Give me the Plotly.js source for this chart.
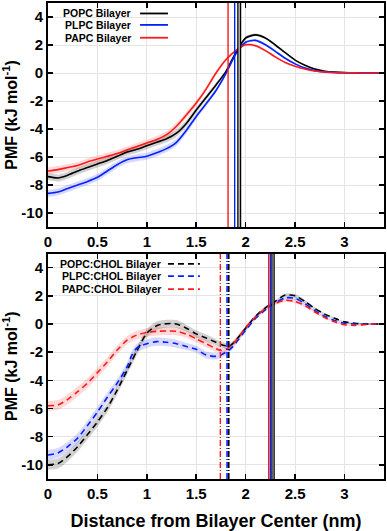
<!DOCTYPE html>
<html>
<head>
<meta charset="utf-8">
<script src="https://cdn.plot.ly/plotly-3.0.1.min.js"></script>
<style>
html,body{margin:0;padding:0;background:#fff;}
#chart{width:387px;height:531px;}
</style>
</head>
<body>
<div id="chart"></div>
<script>
// ---------- data ----------
const xTop = [0,0.1,0.2,0.3,0.4,0.5,0.6,0.7,0.8,0.9,1.0,1.1,1.2,1.3,1.4,1.5,1.6,1.7,1.8,1.9,2.0,2.1,2.2,2.3,2.4,2.5,2.6,2.7,2.8,2.9,3.0,3.1,3.2,3.3,3.4];
const popcTop = [-7.4,-7.5,-7.3,-7.0,-6.75,-6.5,-6.25,-5.95,-5.65,-5.45,-5.2,-4.95,-4.7,-4.3,-3.6,-2.65,-1.75,-0.85,0.1,1.45,2.5,2.72,2.5,2.0,1.45,0.92,0.55,0.28,0.13,0.06,0.03,0.01,0,0,0];
const plpcTop = [-8.6,-8.5,-8.25,-8.0,-7.75,-7.45,-7.0,-6.55,-6.2,-6.05,-5.95,-5.7,-5.4,-4.95,-4.1,-3.1,-2.2,-1.25,-0.05,1.35,2.2,2.33,2.02,1.55,1.05,0.65,0.35,0.17,0.08,0.04,0.02,0.01,0,0,0];
const papcTop = [-7.0,-6.9,-6.75,-6.6,-6.35,-6.15,-5.95,-5.75,-5.5,-5.25,-5.0,-4.75,-4.4,-3.8,-3.0,-2.15,-1.15,0.0,0.95,1.6,2.02,1.95,1.6,1.15,0.75,0.48,0.28,0.14,0.07,0.04,0.02,0.01,0,0,0];
const errTop = [0.25,0.25,0.25,0.25,0.25,0.25,0.25,0.25,0.25,0.25,0.25,0.25,0.25,0.25,0.22,0.2,0.18,0.15,0.12,0.1,0.1,0.1,0.08,0.08,0.06,0.05,0.05,0.05,0.05,0.05,0.05,0.05,0.05,0.05,0.05];

const xBot = [0,0.1,0.2,0.3,0.4,0.5,0.6,0.7,0.8,0.85,0.9,1.0,1.1,1.2,1.3,1.4,1.5,1.6,1.7,1.75,1.8,1.85,1.9,2.0,2.1,2.2,2.3,2.4,2.5,2.6,2.7,2.8,2.9,3.0,3.1,3.2,3.3,3.4];
const popcBot = [-10.0,-9.9,-9.4,-8.7,-7.85,-6.95,-5.95,-4.7,-3.3,-2.6,-1.9,-0.65,-0.12,0.02,0.0,-0.3,-0.7,-1.0,-1.3,-1.45,-1.55,-1.5,-1.15,-0.3,0.55,1.15,1.6,2.05,2.0,1.6,1.1,0.7,0.4,0.15,0.05,0.0,0.0,0.0];
const plpcBot = [-9.3,-9.15,-8.7,-8.1,-7.2,-6.25,-5.2,-4.2,-3.05,-2.2,-1.7,-1.4,-1.25,-1.3,-1.4,-1.6,-1.8,-2.2,-2.3,-2.2,-2.0,-1.75,-1.35,-0.45,0.4,1.0,1.5,1.85,1.82,1.45,0.95,0.55,0.25,0.05,0.0,-0.02,0.0,0.0];
const papcBot = [-5.8,-5.75,-5.35,-4.8,-4.2,-3.45,-2.7,-1.85,-1.15,-0.95,-0.78,-0.6,-0.52,-0.5,-0.52,-0.72,-1.05,-1.4,-1.75,-1.88,-1.8,-1.55,-1.2,-0.25,0.5,1.1,1.45,1.68,1.6,1.3,0.85,0.45,0.15,-0.05,-0.1,-0.05,0.0,0.0];
const errBot = [0.35,0.35,0.35,0.35,0.35,0.35,0.33,0.3,0.3,0.3,0.3,0.3,0.3,0.28,0.28,0.25,0.25,0.25,0.22,0.2,0.2,0.18,0.15,0.12,0.1,0.1,0.1,0.12,0.12,0.1,0.08,0.06,0.05,0.05,0.05,0.05,0.05,0.05];

// vertical reference lines (nm)
const vTopPOPC = 1.935, vTopPLPC = 1.889, vTopPAPC = 1.822;
const vBotDashPOPC = 1.829, vBotDashPLPC = 1.812, vBotDashPAPC = 1.744;
const vBotSolidPOPC = 2.277, vBotSolidPLPC = 2.25, vBotSolidPAPC = 2.233;

const xTickVals = [0,0.5,1,1.5,2,2.5,3];
const xTickText = ['0','0.5','1','1.5','2','2.5','3'];
const yTickVals = [4,2,0,-2,-4,-6,-8,-10];
const yTickText = ['4','2','0','-2','-4','-6','-8','-10'];
const yRange = [-11,5];
const xRange = [0,3.4];

const namesTop = ['POPC Bilayer','PLPC Bilayer','PAPC Bilayer'];
const namesBot = ['POPC:CHOL Bilayer','PLPC:CHOL Bilayer','PAPC:CHOL Bilayer'];

// ---------- styling ----------
const BLACK='#000000', BLUE='#0022ff', RED='#ff1a1a';
const bandCol = {k:'rgba(0,0,0,0.18)', b:'rgba(40,40,255,0.18)', r:'rgba(255,40,40,0.18)'};
const FONT = 'Liberation Sans, Arial, sans-serif';

const traces = [];
function band(x, y, err, col, xa, ya){
  traces.push({x:x, y:y.map((v,i)=>v+err[i]), xaxis:xa, yaxis:ya, mode:'lines',
    line:{width:0, shape:'spline', smoothing:0.7}, showlegend:false, hoverinfo:'skip'});
  traces.push({x:x, y:y.map((v,i)=>v-err[i]), xaxis:xa, yaxis:ya, mode:'lines', fill:'tonexty',
    fillcolor:col, line:{width:0, shape:'spline', smoothing:0.7}, showlegend:false, hoverinfo:'skip'});
}
function curve(x, y, col, dash, xa, ya, name){
  traces.push({x:x, y:y, xaxis:xa, yaxis:ya, mode:'lines', name:name,
    line:{color:col, width:1.6, dash:dash, shape:'spline', smoothing:0.7}, showlegend:false});
}
function vline(xv, col, dash, width, xa, ya){
  traces.push({x:[xv,xv], y:yRange, xaxis:xa, yaxis:ya, mode:'lines',
    line:{color:col, width:width, dash:dash}, showlegend:false, hoverinfo:'skip'});
}

// top panel
band(xTop, popcTop, errTop, bandCol.k, 'x','y');
band(xTop, plpcTop, errTop, bandCol.b, 'x','y');
band(xTop, papcTop, errTop, bandCol.r, 'x','y');
curve(xTop, popcTop, BLACK, 'solid', 'x','y', namesTop[0]);
curve(xTop, plpcTop, BLUE, 'solid', 'x','y', namesTop[1]);
curve(xTop, papcTop, RED, 'solid', 'x','y', namesTop[2]);
vline(vTopPAPC, RED, 'solid', 1.4, 'x','y');
vline(vTopPLPC, BLUE, 'solid', 1.4, 'x','y');
vline(vTopPOPC, BLACK, 'solid', 4, 'x','y');
vline(vTopPOPC, '#aaaaaa', 'solid', 1.6, 'x','y');

// bottom panel
band(xBot, popcBot, errBot, bandCol.k, 'x2','y2');
band(xBot, plpcBot, errBot, bandCol.b, 'x2','y2');
band(xBot, papcBot, errBot, bandCol.r, 'x2','y2');
curve(xBot, popcBot, BLACK, '6px,4px', 'x2','y2', namesBot[0]);
curve(xBot, plpcBot, BLUE, '6px,4px', 'x2','y2', namesBot[1]);
curve(xBot, papcBot, RED, '6px,4px', 'x2','y2', namesBot[2]);
vline(vBotDashPAPC, RED, '6px,2px,1px,2px', 1.4, 'x2','y2');
vline(vBotDashPOPC, BLACK, '6px,2px,1px,2px', 1.6, 'x2','y2');
vline(vBotDashPLPC, BLUE, '6px,2px,1px,2px', 1.6, 'x2','y2');
vline(vBotSolidPAPC, RED, 'solid', 1.4, 'x2','y2');
vline(vBotSolidPOPC, BLACK, 'solid', 3.5, 'x2','y2');
vline(vBotSolidPOPC, '#aaaaaa', 'solid', 1.2, 'x2','y2');
vline(vBotSolidPLPC, BLUE, 'solid', 1.4, 'x2','y2');

// ---------- layout ----------
const tickFont = {family:FONT, size:15, color:'#000', weight:'bold'};
function xAxis(anchor){
  return {anchor:anchor, domain:[0,1], range:xRange, tickvals:xTickVals, ticktext:xTickText,
    ticks:'inside', ticklen:5, tickwidth:1.5, tickcolor:'#000', showline:true, linewidth:2,
    linecolor:'#000', mirror:'ticks', showgrid:true, gridcolor:'#e4e4e4', gridwidth:1,
    zeroline:false, tickfont:tickFont, automargin:false};
}
function yAxis(anchor, domain){
  return {anchor:anchor, domain:domain, range:yRange, tickvals:yTickVals, ticktext:yTickText,
    ticks:'inside', ticklen:5, tickwidth:1.5, tickcolor:'#000', showline:true, linewidth:2,
    linecolor:'#000', mirror:'ticks', showgrid:true, gridcolor:'#e4e4e4', gridwidth:1,
    zeroline:false, tickfont:tickFont, automargin:false,
    title:{text:'PMF (kJ mol<sup>-1</sup>)', font:{family:FONT, size:16, color:'#000', weight:'bold'}, standoff:2}};
}
const xa2 = xAxis('y2');
xa2.title = {text:'Distance from Bilayer Center (nm)', font:{family:FONT, size:18, color:'#000', weight:'bold'}, standoff:14};

// legends (text right-aligned, sample line on the right)
const annotations = [];
const shapes = [];
const legTopY = [0.978, 0.954, 0.927];
const legBotY = [0.452, 0.426, 0.399];
const topCols = [BLACK, BLUE, RED];
const legFont = {family:FONT, size:10.5, color:'#000', weight:'bold'};
for (let i=0;i<3;i++){
  annotations.push({xref:'paper', yref:'paper', x:0.253, y:legTopY[i], xanchor:'right', yanchor:'middle',
    text:namesTop[i], showarrow:false, font:legFont});
  shapes.push({type:'line', xref:'paper', yref:'paper', x0:0.274, x1:0.357, y0:legTopY[i], y1:legTopY[i],
    line:{color:topCols[i], width:1.8}});
  annotations.push({xref:'paper', yref:'paper', x:0.342, y:legBotY[i], xanchor:'right', yanchor:'middle',
    text:namesBot[i], showarrow:false, font:legFont});
  shapes.push({type:'line', xref:'paper', yref:'paper', x0:0.357, x1:0.452, y0:legBotY[i], y1:legBotY[i],
    line:{color:topCols[i], width:1.8, dash:'6px,4px'}});
}

const layout = {
  width:387, height:531,
  margin:{l:48, r:3, t:3, b:52},
  paper_bgcolor:'#fff', plot_bgcolor:'#fff',
  showlegend:false,
  font:{family:FONT, color:'#000'},
  xaxis:xAxis('y'),
  xaxis2:xa2,
  yaxis:yAxis('x',[0.5294,1]),
  yaxis2:yAxis('x2',[0,0.4737]),
  annotations:annotations,
  shapes:shapes
};

Plotly.newPlot('chart', traces, layout, {displayModeBar:false, staticPlot:true});
</script>
</body>
</html>
